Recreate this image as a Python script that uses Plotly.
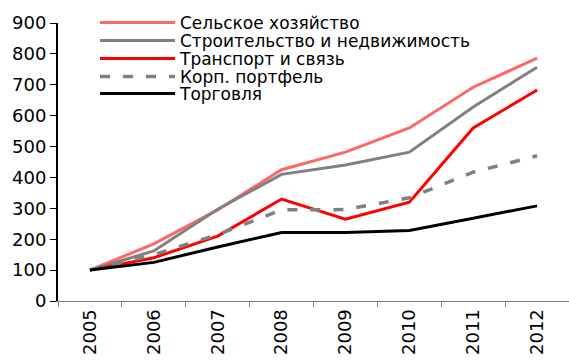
import plotly.graph_objects as go

years = ["2005", "2006", "2007", "2008", "2009", "2010", "2011", "2012"]
agri = [100, 185, 295, 425, 482, 560, 692, 786]
constr = [100, 162, 297, 410, 440, 482, 628, 757]
transport = [100, 140, 210, 330, 265, 320, 560, 683]
corp = [100, 150, 215, 295, 296, 334, 417, 470]
trade = [100, 125, 175, 222, 222, 228, 268, 308]

names = ["Сельское хозяйство", "Строительство и недвижимость", "Транспорт и связь",
         "Корп. портфель", "Торговля"]
series = [agri, constr, transport, corp, trade]
colors = ["#FF6666", "#808080", "#FF0000", "#808080", "#000000"]
dashes = ["solid", "solid", "solid", "10px,13px", "solid"]
widths = [3, 3, 3, 3.5, 3]
legend_rows_px = [23, 41, 59, 77, 94]

W, H = 569, 361
L, T, B = 58, 23, 60
ph = H - T - B
pw = W - L
fig = go.Figure()
layout_legends = {}
for i, (n, s, c, d, w) in enumerate(zip(names, series, colors, dashes, widths)):
    lg = "legend" if i == 0 else f"legend{i+1}"
    fig.add_trace(go.Scatter(x=years, y=s, name=n, mode="lines", legend=lg,
                             line=dict(color=c, width=w, dash=d)))
    layout_legends[lg] = dict(
        x=(95 - L) / pw, xref="paper", xanchor="left",
        y=(H - B - legend_rows_px[i]) / ph, yref="paper", yanchor="middle",
        bgcolor="rgba(0,0,0,0)", font=dict(size=17), itemwidth=75,
        borderwidth=0,
    )

fig.update_layout(
    width=W, height=H,
    margin=dict(l=L, r=0, t=T, b=B, autoexpand=False),
    paper_bgcolor="white", plot_bgcolor="white",
    font=dict(family="DejaVu Sans", size=17, color="black"),
    showlegend=True,
    xaxis=dict(type="category", range=[-0.5, 7.5], tickangle=-90,
               showline=True, linecolor="#808080", linewidth=1,
               ticks="outside", tickson="boundaries", ticklen=5, tickcolor="#808080",
               showgrid=False, zeroline=False, tickfont=dict(size=18)),
    yaxis=dict(range=[0, 900], dtick=100, showline=True, linecolor="black", linewidth=2,
               ticks="outside", ticklen=6, tickcolor="black", tickwidth=1,
               showgrid=False, zeroline=False, tickfont=dict(size=18)),
    **layout_legends,
)

fig.write_html("out.html")
